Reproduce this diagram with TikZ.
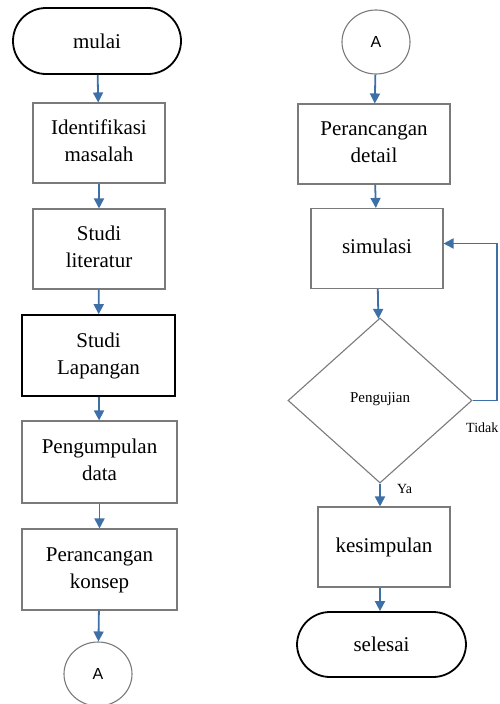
\documentclass[tikz,border=0pt]{standalone}
\usepackage{fontspec}
\setmainfont{Liberation Serif}
\newfontfamily\sansA{Liberation Sans}
\usetikzlibrary{arrows.meta,shapes.geometric}
\definecolor{arrowblue}{HTML}{3E70A8}
\definecolor{boxgray}{HTML}{7A7A7A}
\newcommand\liftt[2]{\raisebox{#1}{\begin{tabular}{@{}c@{}}#2\end{tabular}}}
\tikzset{
  box/.style={draw=boxgray, line width=1.1pt, minimum width=132pt, minimum height=80pt, align=center, font=\fontsize{21}{27}\selectfont, inner sep=0pt},
  boxdark/.style={box, draw=black, line width=1.6pt},
  term/.style={draw=black, line width=1.8pt, rounded corners=33pt, minimum width=168pt, minimum height=66pt, font=\fontsize{21}{27}\selectfont, inner sep=0pt},
  conn/.style={draw=boxgray, line width=1.1pt, ellipse, minimum width=68pt, minimum height=64pt, font=\sansA\fontsize{16}{18}\selectfont, inner sep=0pt},
  arr/.style={draw=arrowblue, line width=1.8pt, -{Triangle[width=10pt,length=10pt]}},
  small/.style={font=\fontsize{14}{16}\selectfont, inner sep=0pt}
}
\begin{document}
\begin{tikzpicture}[x=1pt, y=-1pt]
\useasboundingbox (0,0) rectangle (499,704);
% left column
\node[term] (mulai) at (97,41) {mulai};
\node[box] (ident) at (99,143) {\liftt{5pt}{Identifikasi\\masalah}};
\node[box] (lit) at (99,249) {\liftt{6pt}{Studi\\literatur}};
\node[boxdark, minimum width=153pt, minimum height=81pt] (lap) at (98.5,355.5) {\liftt{5pt}{Studi\\Lapangan}};
\node[box, minimum width=155pt, minimum height=82pt] (data) at (99.5,462) {\liftt{5pt}{Pengumpulan\\data}};
\node[box, minimum width=155pt, minimum height=81pt] (konsep) at (99.5,569.5) {\liftt{3pt}{Perancangan\\konsep}};
\node[conn] (a1) at (98,674) {A};
\draw[arr] (mulai) -- (ident);
\draw[arr] (ident) -- (lit);
\draw[arr] (lit) -- (lap);
\draw[arr] (lap) -- (data);
\draw[arr] (data) -- (konsep);
\draw[arr] (konsep) -- (a1);
% right column
\node[conn] (a2) at (376,42) {A};
\node[box, minimum width=152pt, minimum height=80pt] (detail) at (374,144) {\liftt{4pt}{Perancangan\\detail}};
\node[box] (sim) at (377,248.5) {\liftt{6pt}{simulasi}};
\node[diamond, draw=boxgray, line width=1.1pt, minimum width=184pt, minimum height=165pt, inner sep=0pt, aspect=1.115, font=\fontsize{15}{17}\selectfont] (uji) at (380,400.5) {\raisebox{6pt}{Pengujian}};
\node[box] (kes) at (384,547) {\liftt{5pt}{kesimpulan}};
\node[term, minimum width=169pt, minimum height=65pt] (selesai) at (381.5,644.5) {selesai};
\coordinate (lp) at (497,400.5);
\draw[arr] (a2) -- (detail);
\draw[arr] (detail) -- (sim);
\draw[arr] (sim) -- (uji);
\draw[arr] (uji.south) -- (uji.south |- kes.north);
\draw[arr] (kes.south -| uji.south) -- (uji.south |- selesai.north);
\draw[arr] (uji.east) -- (lp) |- ([yshift=5pt]sim.east);
\node[small, anchor=west] (tidak) at (466,428) {Tidak};
\node[small, anchor=west] (ya) at (397,489) {Ya};
\end{tikzpicture}
\end{document}
